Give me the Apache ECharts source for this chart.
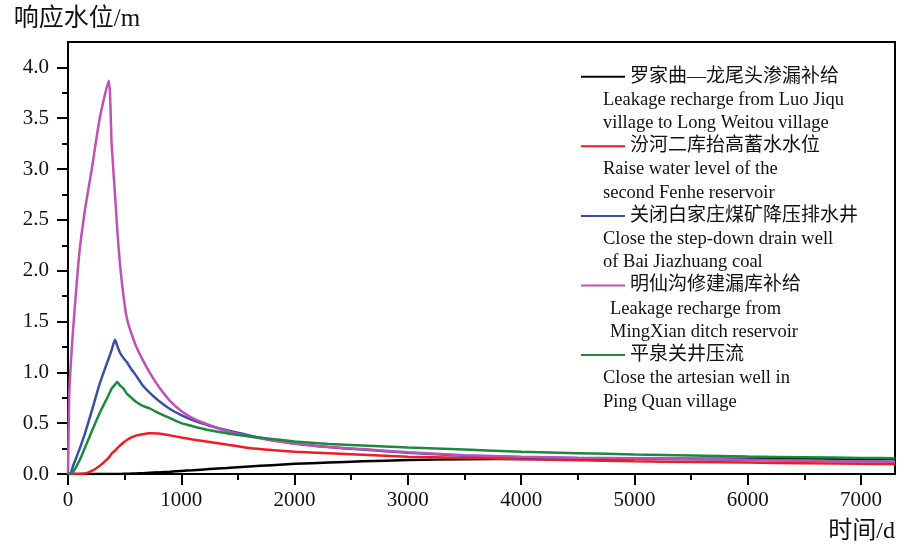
<!DOCTYPE html>
<html>
<head>
<meta charset="utf-8">
<title>响应水位</title>
<script src="https://cdn.jsdelivr.net/npm/echarts@6/dist/echarts.min.js"></script>
<style>
  html, body { margin: 0; padding: 0; background: #fff; }
  #chart { width: 898px; height: 550px; }
</style>
</head>
<body>
<div id="chart"></div>
<script>
// 时间 (d)
var days = [0, 10, 20, 45, 100, 150, 210, 280, 360, 385, 415, 435, 460, 490, 520, 560, 600, 660, 720, 800,
  900, 1000, 1100, 1250, 1400, 1600, 1800, 2000, 2300, 2600, 3000, 3500, 4000, 4500, 5000, 5500, 6000, 6500, 7000, 7300];

// 响应水位 (m)
var luoJiqu = [0, 0, 0, 0, 0, 0, 0, 0, 0, 0, 0, 0, 0.001, 0.002, 0.002, 0.004, 0.005, 0.008, 0.012, 0.016,
  0.022, 0.03, 0.037, 0.048, 0.058, 0.073, 0.087, 0.1, 0.113, 0.125, 0.137, 0.145, 0.148, 0.15, 0.15, 0.15, 0.15, 0.15, 0.15, 0.15];
var fenhe = [0, 0, 0, 0, 0, 0.005, 0.03, 0.08, 0.16, 0.2, 0.23, 0.255, 0.28, 0.31, 0.335, 0.36, 0.378, 0.392, 0.4, 0.398,
  0.38, 0.36, 0.34, 0.315, 0.29, 0.255, 0.235, 0.22, 0.205, 0.19, 0.17, 0.158, 0.145, 0.135, 0.125, 0.118, 0.112, 0.106, 0.1, 0.098];
var baiJiazhuang = [0, 0, 0, 0.08, 0.24, 0.4, 0.62, 0.89, 1.14, 1.22, 1.32, 1.26, 1.19, 1.14, 1.1, 1.03, 0.97, 0.87, 0.8, 0.72,
  0.64, 0.58, 0.53, 0.475, 0.43, 0.38, 0.335, 0.3, 0.265, 0.24, 0.21, 0.18, 0.165, 0.155, 0.15, 0.145, 0.14, 0.132, 0.125, 0.12];
var mingXian = [0, 0.75, 1.0, 1.42, 2.17, 2.6, 3.0, 3.5, 3.87, 3.25, 2.75, 2.4, 2.05, 1.75, 1.53, 1.38, 1.26, 1.12, 1.0, 0.86,
  0.72, 0.62, 0.55, 0.48, 0.42, 0.37, 0.33, 0.3, 0.265, 0.245, 0.215, 0.185, 0.17, 0.16, 0.155, 0.148, 0.14, 0.133, 0.125, 0.12];
var pingQuan = [0, 0, 0, 0.02, 0.13, 0.26, 0.42, 0.6, 0.78, 0.84, 0.88, 0.905, 0.87, 0.84, 0.79, 0.75, 0.71, 0.67, 0.645, 0.6,
  0.55, 0.5, 0.47, 0.43, 0.4, 0.37, 0.345, 0.32, 0.295, 0.28, 0.26, 0.24, 0.22, 0.205, 0.192, 0.182, 0.172, 0.165, 0.158, 0.155];

var seriesNames = ['罗家曲—龙尾头渗漏补给', '汾河二库抬高蓄水水位', '关闭白家庄煤矿降压排水井', '明仙沟修建漏库补给', '平泉关井压流'];
var captions = [
  ['Leakage recharge from Luo Jiqu', 'village to Long Weitou village'],
  ['Raise water level of the', 'second Fenhe reservoir'],
  ['Close the step-down drain well', 'of Bai Jiazhuang coal'],
  ['Leakage recharge from', 'MingXian ditch reservoir'],
  ['Close the artesian well in', 'Ping Quan village']
];
var colors = ['#000000', '#ee1d23', '#3a4ea6', '#c050b6', '#1b8a3d'];

var xMajor = [0, 1000, 2000, 3000, 4000, 5000, 6000, 7000];
var xMinor = [500, 1500, 2500, 3500, 4500, 5500, 6500];
var yMajor = [0, 0.5, 1.0, 1.5, 2.0, 2.5, 3.0, 3.5, 4.0];
var yMinor = [0.25, 0.75, 1.25, 1.75, 2.25, 2.75, 3.25, 3.75];

var serifFont = '"Liberation Serif", "Times New Roman", "Noto Sans CJK SC", serif';

function pairs(ys) {
  var out = [];
  for (var i = 0; i < days.length; i++) {
    out.push([days[i], ys[i]]);
  }
  return out;
}

var allValues = [luoJiqu, fenhe, baiJiazhuang, mingXian, pingQuan];
var series = [];
for (var i = 0; i < allValues.length; i++) {
  series.push({
    name: seriesNames[i],
    type: 'line',
    data: pairs(allValues[i]),
    symbol: 'none',
    smooth: 0.2,
    lineStyle: {color: colors[i], width: 2.5},
    itemStyle: {color: colors[i]}
  });
}

// 图例下方的英文说明
var legendTop = 76.7;
var legendStep = 69.6;
var graphics = [];
for (var i = 0; i < captions.length; i++) {
  for (var j = 0; j < captions[i].length; j++) {
    graphics.push({
      type: 'text',
      x: 603 + (i === 3 ? 7 : 0),
      y: legendTop + i * legendStep + (j + 1) * 23.3,
      style: {
        text: captions[i][j],
        font: '18.5px ' + serifFont,
        fill: '#111',
        verticalAlign: 'middle'
      }
    });
  }
}

var myChart = echarts.init(document.getElementById('chart'));
var option = {
  animation: false,
  backgroundColor: '#fff',
  grid: {
    left: 68, right: 3, top: 42, bottom: 76,
    show: true, borderColor: '#000', borderWidth: 2
  },
  legend: {
    orient: 'vertical',
    left: 580,
    top: legendTop - 10,
    padding: 0,
    itemWidth: 44,
    itemHeight: 14,
    itemGap: legendStep - 20,
    itemStyle: {opacity: 0},
    data: seriesNames,
    textStyle: {fontSize: 19, lineHeight: 20, color: '#111', fontFamily: serifFont}
  },
  xAxis: [
    {
      type: 'value',
      min: 0,
      max: 7300,
      name: '时间/d',
      nameLocation: 'end',
      nameGap: 0,
      nameTextStyle: {
        fontSize: 24, color: '#111', fontFamily: serifFont,
        align: 'right', verticalAlign: 'top', padding: [46, 0, 0, 0]
      },
      axisLine: {lineStyle: {color: '#000', width: 2}},
      axisTick: {customValues: xMajor, length: 11, lineStyle: {color: '#000', width: 2}},
      axisLabel: {
        customValues: xMajor, margin: 16, fontSize: 21, color: '#111', fontFamily: serifFont,
        formatter: function (v) { return String(v); }
      },
      splitLine: {show: false}
    },
    {
      type: 'value',
      min: 0,
      max: 7300,
      position: 'bottom',
      axisLine: {show: false},
      axisTick: {customValues: xMinor, length: 6, lineStyle: {color: '#000', width: 2}},
      axisLabel: {show: false},
      splitLine: {show: false}
    }
  ],
  yAxis: [
    {
      type: 'value',
      min: 0,
      max: 4.25,
      name: '响应水位/m',
      nameLocation: 'end',
      nameGap: 10,
      nameTextStyle: {fontSize: 25, color: '#111', fontFamily: serifFont, padding: [0, 0, 0, 18]},
      axisLine: {lineStyle: {color: '#000', width: 2}},
      axisTick: {customValues: yMajor, length: 11, lineStyle: {color: '#000', width: 2}},
      axisLabel: {
        customValues: yMajor, margin: 19, fontSize: 21, color: '#111', fontFamily: serifFont,
        formatter: function (v) { return v.toFixed(1); }
      },
      splitLine: {show: false}
    },
    {
      type: 'value',
      min: 0,
      max: 4.25,
      position: 'left',
      axisLine: {show: false},
      axisTick: {customValues: yMinor, length: 6, lineStyle: {color: '#000', width: 2}},
      axisLabel: {show: false},
      splitLine: {show: false}
    }
  ],
  graphic: graphics,
  series: series
};
myChart.setOption(option);
</script>
</body>
</html>
